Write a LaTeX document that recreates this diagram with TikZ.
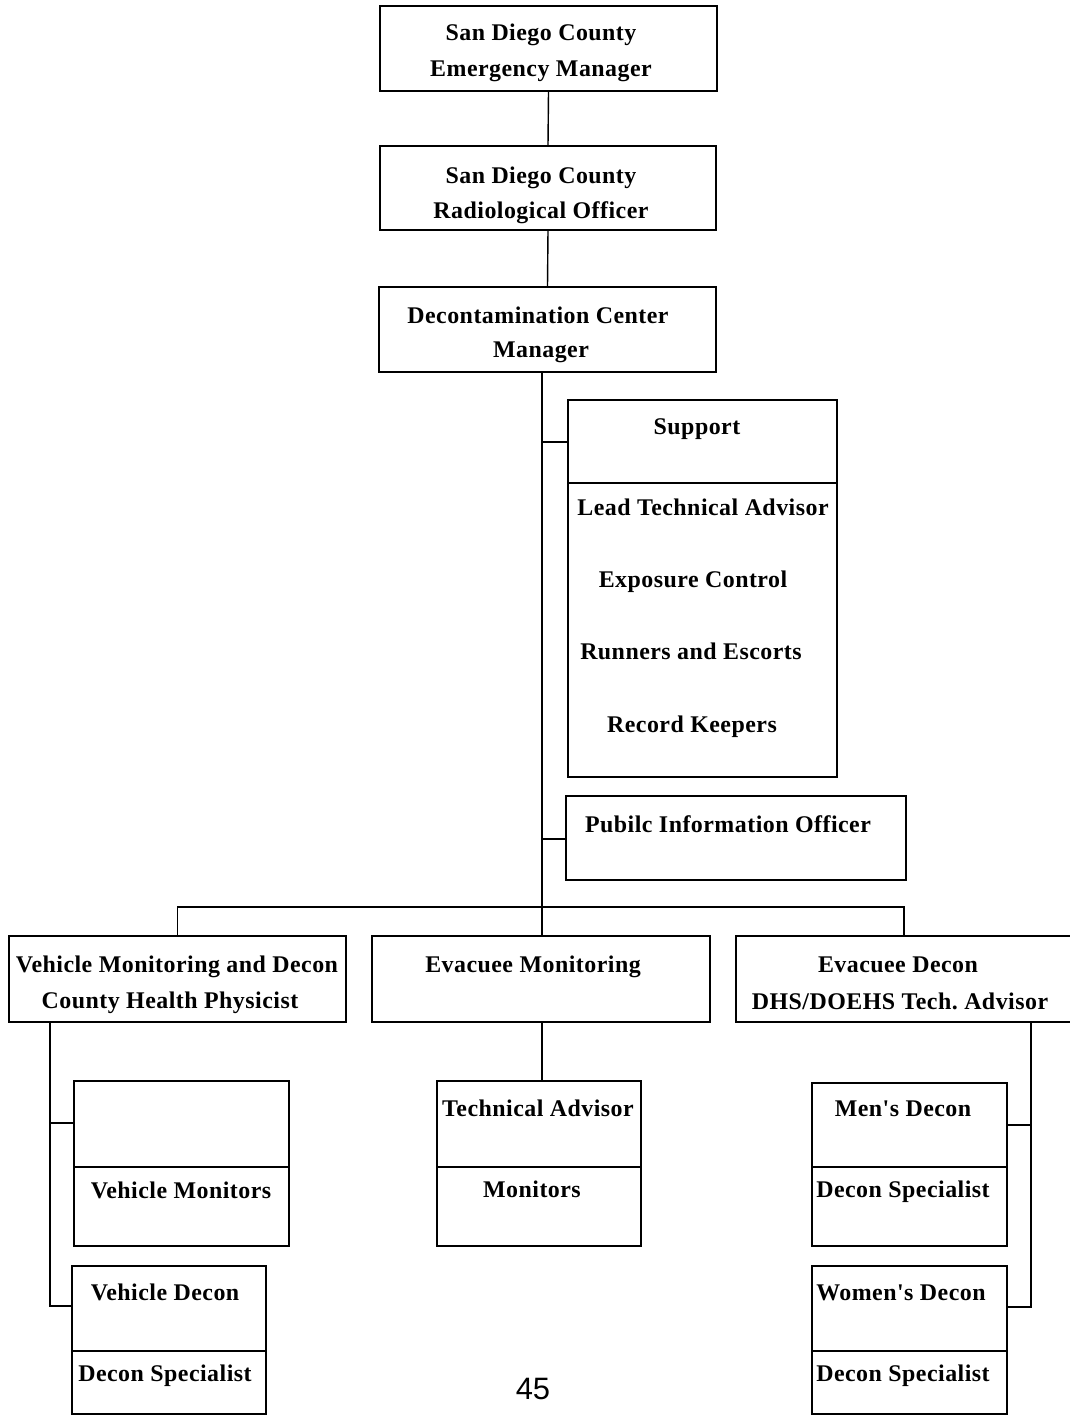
\documentclass[tikz,border=0pt]{standalone}
\usepackage{fontspec}
\newfontfamily\orgfont{Liberation Serif}[LetterSpace=2.0]
\newfontfamily\pagefont{Liberation Sans}
\usetikzlibrary{fit}

\tikzset{
  unitbox/.style={draw, line width=1pt, inner sep=0pt},
  lbl/.style={font=\orgfont\bfseries\fontsize{17}{20}\selectfont, inner sep=0pt, anchor=base},
  link/.style={line width=1pt},
}

\begin{document}
\begin{tikzpicture}[x=0.025cm, y=-0.025cm]
\useasboundingbox (0,0) rectangle (1070,1416);

% chain of command
\node[unitbox, fit={(380,6)(717,91)}] (mgr) {};
\node[lbl] (mgr-a) at (541,40) {San Diego County};
\node[lbl] (mgr-b) at (541,76) {Emergency Manager};

\node[unitbox, fit={(380,146)(716,230)}] (rad) {};
\node[lbl] (rad-a) at (541,183) {San Diego County};
\node[lbl] (rad-b) at (541,218) {Radiological Officer};

\node[unitbox, fit={(379,287)(716,372)}] (dcm) {};
\node[lbl] (dcm-a) at (538,323) {Decontamination Center};
\node[lbl] (dcm-b) at (541,357) {Manager};

\draw[link] (mgr.south) -- (rad.north);
\draw[link] (rad.south) -- (dcm.north);

% staff boxes
\node[unitbox, fit={(568,400)(837,777)}] (sup) {};
\draw[link] (sup.west |- 0,483) -- (sup.east |- 0,483);
\node[lbl] (sup-a) at (697,434) {Support};
\node[lbl] (sup-b) at (703,515) {Lead Technical Advisor};
\node[lbl] (sup-c) at (693,587) {Exposure Control};
\node[lbl] (sup-d) at (691,659) {Runners and Escorts};
\node[lbl] (sup-e) at (692,732) {Record Keepers};

\node[unitbox, fit={(566,796)(906,880)}] (pio) {};
\node[lbl] (pio-a) at (728,832) {Pubilc Information Officer};

% trunk and bus
\coordinate (bus) at (542,907);
\draw[link] (dcm.south -| bus) -- (bus);
\draw[link] (bus |- 0,442) -- (sup.west |- 0,442);
\draw[link] (bus |- 0,839) -- (pio.west |- 0,839);

% branches
\node[unitbox, fit={(9,936)(346,1022)}] (vmd) {};
\node[lbl] (vmd-a) at (177,972) {Vehicle Monitoring and Decon};
\node[lbl] (vmd-b) at (170,1008) {County Health Physicist};

\node[unitbox, fit={(372,936)(710,1022)}] (emon) {};
\node[lbl] (emon-a) at (533,972) {Evacuee Monitoring};

\node[unitbox, fit={(736,936)(1072,1022)}] (edec) {};
\node[lbl] (edec-a) at (898,972) {Evacuee Decon};
\node[lbl] (edec-b) at (900,1009) {DHS/DOEHS Tech.\ Advisor};

\draw[link] (vmd.north) |- (bus) -| (edec.north);
\draw[link] (bus) -- (emon.north -| bus);

% vehicle side
\node[unitbox, fit={(74,1081)(289,1246)}] (vmon) {};
\draw[link] (vmon.west |- 0,1167) -- (vmon.east |- 0,1167);
\node[lbl] (vmon-a) at (181,1198) {Vehicle Monitors};

\node[unitbox, fit={(72,1266)(266,1414)}] (vdec) {};
\draw[link] (vdec.west |- 0,1351) -- (vdec.east |- 0,1351);
\node[lbl] (vdec-a) at (165,1300) {Vehicle Decon};
\node[lbl] (vdec-b) at (165,1381) {Decon Specialist};

\draw[link] (vmd.south -| 50,0) |- (vdec.west |- 0,1306);
\draw[link] (50,1123) -- (vmon.west |- 0,1123);

% monitoring side
\node[unitbox, fit={(437,1081)(641,1246)}] (tadv) {};
\draw[link] (tadv.west |- 0,1167) -- (tadv.east |- 0,1167);
\node[lbl] (tadv-a) at (538,1116) {Technical Advisor};
\node[lbl] (tadv-b) at (532,1197) {Monitors};

\draw[link] (emon.south -| bus) -- (tadv.north -| bus);

% decon side
\node[unitbox, fit={(812,1083)(1007,1246)}] (mdec) {};
\draw[link] (mdec.west |- 0,1167) -- (mdec.east |- 0,1167);
\node[lbl] (mdec-a) at (903,1116) {Men's Decon};
\node[lbl] (mdec-b) at (903,1197) {Decon Specialist};

\node[unitbox, fit={(812,1266)(1007,1414)}] (wdec) {};
\draw[link] (wdec.west |- 0,1351) -- (wdec.east |- 0,1351);
\node[lbl] (wdec-a) at (901,1300) {Women's Decon};
\node[lbl] (wdec-b) at (903,1381) {Decon Specialist};

\draw[link] (edec.south -| 1031,0) |- (wdec.east |- 0,1307);
\draw[link] (1031,1125) -- (mdec.east |- 0,1125);

\node[font=\pagefont\fontsize{22}{24}\selectfont, inner sep=0pt, anchor=base] (page) at (533,1399) {45};
\end{tikzpicture}
\end{document}
